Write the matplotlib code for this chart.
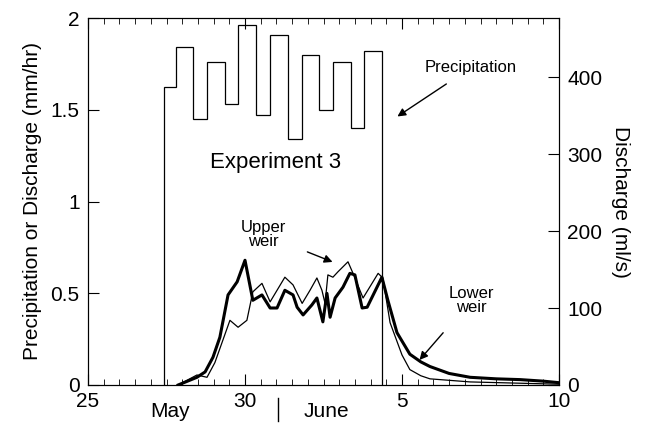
import numpy as np
from matplotlib import pyplot as plt

plt.rcParams.update({'font.family': ['Liberation Sans', 'DejaVu Sans'], 'font.size': 13})

# precipitation steps (mm/hr), x in days after May 25
precip_edges = [2.43, 2.79, 3.35, 3.80, 4.35, 4.79, 5.36, 5.80, 6.36, 6.80, 7.37, 7.79, 8.37, 8.79, 9.36]
precip_vals = [1.625, 1.84, 1.45, 1.76, 1.53, 1.96, 1.47, 1.91, 1.34, 1.80, 1.50, 1.76, 1.40, 1.82]

# lower weir discharge (ml/s)
lower_t = [2.87, 3.47, 3.73, 3.98, 4.20, 4.46, 4.75, 5.00, 5.25, 5.54, 5.80, 6.02, 6.27, 6.53, 6.66,
           6.85, 7.13, 7.29, 7.48, 7.61, 7.71, 7.87, 8.12, 8.34, 8.50, 8.73, 8.89, 9.36, 9.55, 9.84,
           10.25, 10.6, 10.89, 11.5, 12.17, 13.0, 13.76, 14.5, 15.0]
lower_q = [0, 10, 17, 36, 62, 117, 134, 162, 110, 117, 100, 100, 123, 117, 101,
           91, 104, 113, 82, 119, 88, 113, 127, 145, 143, 100, 101, 140, 110, 68,
           40, 30, 24, 15, 10, 8, 7, 5, 3]

# upper weir discharge (ml/s)
upper_t = [2.87, 3.47, 3.79, 4.04, 4.52, 4.78, 5.06, 5.25, 5.54, 5.80, 6.27, 6.53, 6.82, 7.07, 7.29,
           7.45, 7.55, 7.64, 7.80, 7.96, 8.28, 8.44, 8.76, 9.24, 9.39, 9.62, 10.0, 10.25, 10.6, 10.89,
           12.17, 15.0]
upper_q = [0, 13, 10, 29, 84, 75, 84, 121, 132, 108, 140, 130, 106, 123, 139,
           123, 106, 143, 140, 147, 160, 145, 113, 145, 139, 81, 39, 20, 12, 8, 4, 1]

tick_pos = [0, 5, 10, 15]
tick_labels = ['25', '30', '5', '10']

fig = plt.figure(figsize=(6.48, 4.25), dpi=100)
ax = fig.add_axes([88/648, 1-385/425, (559-88)/648, (385-18)/425])
ax2 = ax.twinx()

# precipitation as outlined steps
ax.stairs(precip_vals, precip_edges, color='black', lw=0.9, baseline=0)

ax2.plot(lower_t, lower_q, color='black', lw=2.2)
ax2.plot(upper_t, upper_q, color='black', lw=0.9)

ax.set_xlim(0, 15)
ax.set_ylim(0, 2)
ax2.set_ylim(0, (385-18)/0.77)
ax.set_yticks([0, 0.5, 1, 1.5, 2], ['0', '0.5', '1', '1.5', '2'])
ax2.set_yticks([0, 100, 200, 300, 400])
ax.set_xticks(tick_pos, tick_labels)
ax.set_xticks(np.arange(0, 15.01, 0.5), minor=True)
ax.tick_params(axis='x', which='major', direction='in', length=8, pad=5, labelsize=15, top=True)
ax.tick_params(axis='x', which='minor', direction='in', length=4, top=True)
ax.tick_params(axis='y', direction='in', length=8, pad=6, labelsize=15)
ax2.tick_params(axis='y', direction='in', length=8, pad=6, labelsize=15)
ax.set_ylabel('Precipitation or Discharge (mm/hr)', fontsize=15, labelpad=6)
ax2.set_ylabel('Discharge (ml/s)', fontsize=15, rotation=270, labelpad=20)

tr = ax.get_xaxis_transform()
ax.text(2.6, -0.072, 'May', ha='center', va='center', fontsize=15, transform=tr)
ax.text(7.6, -0.072, 'June', ha='center', va='center', fontsize=15, transform=tr)
ax.plot([6.05, 6.05], [-0.035, -0.097], color='black', lw=1, clip_on=False, transform=tr)

ax.text(5.96, 1.21, 'Experiment 3', ha='center', va='center', fontsize=16)
ax.annotate('Precipitation', xy=(9.78, 1.455), xytext=(12.2, 1.73), ha='center', va='center',
            fontsize=12, arrowprops=dict(arrowstyle='-|>', color='black', lw=1, shrinkA=8))
ax.annotate('Upper\nweir', xy=(7.87, 0.665), xytext=(5.6, 0.82), ha='center', va='center',
            fontsize=12, linespacing=0.95,
            arrowprops=dict(arrowstyle='-|>', color='black', lw=1, shrinkA=14))
ax.annotate('Lower\nweir', xy=(10.5, 0.125), xytext=(12.2, 0.46), ha='center', va='center',
            fontsize=12, linespacing=0.95,
            arrowprops=dict(arrowstyle='-|>', color='black', lw=1, shrinkA=14))

plt.savefig('out.png', dpi=100)
